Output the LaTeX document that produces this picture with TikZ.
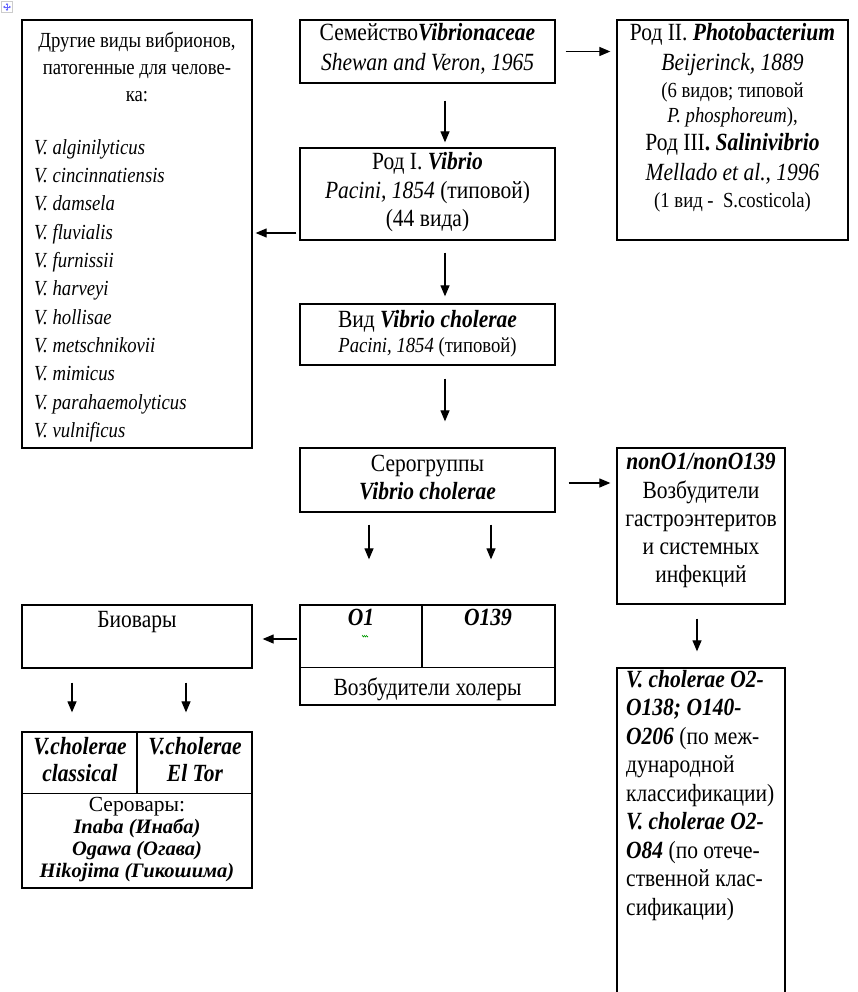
\documentclass[tikz,border=0pt]{standalone}
\usepackage{fontspec}
\setmainfont{Liberation Serif}
\usetikzlibrary{arrows.meta}
\usetikzlibrary{decorations.pathmorphing}
\newcommand\bigtxt{\fontsize{21.5}{26}\selectfont}
\newcommand\smalltxt{\fontsize{18.7}{23}\selectfont}
\newcommand\bfit[1]{\textbf{\textit{#1}}}
\newcommand\tallt[1]{\scalebox{1}[1.15]{#1}}

\begin{document}
\begin{tikzpicture}[x=1pt, y=-1pt,
    box/.style={draw, line width=1.3pt, inner sep=0pt},
    lbl/.style={inner sep=0pt, text height=10pt, text depth=0pt, font=\bigtxt},
    slbl/.style={lbl, text height=8.6pt, font=\smalltxt},
    arr/.style={-{Triangle[length=11pt, width=9pt]}, line width=1.2pt}]
    \useasboundingbox (0,0) rectangle (858,992);
    \clip (0,0) rectangle (858,992);

    % table handle
    \draw[gray!40] (1.5,1.5) rectangle (12.5,12.5);
    \foreach \dx/\dy in {1/0, -1/0, 0/1, 0/-1} {
        \draw[blue!60, line width=0.8pt, -{Triangle[length=2pt, width=2.5pt]}] (7,7) -- ++(4*\dx,4*\dy);
    }

    % boxes
    \node[box, minimum width=230, minimum height=428] (others) at (137,234) {};
    \node[box, minimum width=255, minimum height=63] (fam) at (427.5,51.5) {};
    \node[box, minimum width=231, minimum height=220] (photo) at (732.5,130) {};
    \node[box, minimum width=255, minimum height=92] (vib) at (427.5,194) {};
    \node[box, minimum width=255, minimum height=61] (vid) at (427.5,334.5) {};
    \node[box, minimum width=255, minimum height=64] (sero) at (427.5,480) {};
    \node[box, minimum width=168, minimum height=156] (nono) at (701,526) {};
    \node[box, minimum width=255, minimum height=100] (chol) at (427.5,655) {};
    \node[box, minimum width=230, minimum height=63] (biov) at (137,636.5) {};
    \node[box, minimum width=230, minimum height=156] (biot) at (137,810) {};
    \node[box, minimum width=168, minimum height=340] (nonint) at (701,838) {};

    \draw[line width=1.3pt] ([xshift=-5.5pt]chol.north) -- ++(0,63);
    \draw[line width=1.3pt] ([yshift=-63pt]chol.north west) -- ([yshift=-63pt]chol.north east);
    \draw[line width=1.3pt] (biot.north) -- ++(0,62);
    \draw[line width=1.3pt] ([yshift=-62pt]biot.north west) -- ([yshift=-62pt]biot.north east);

    % arrows
    \draw[arr, shorten <=10pt, shorten >=6pt] (fam.east) -- (fam.east -| photo.west);
    \draw[arr, shorten <=17pt, shorten >=5pt] ([xshift=17.5pt]fam.south) -- ([xshift=17.5pt]vib.north);
    \draw[arr, shorten <=3pt, shorten >=3pt] ([yshift=-39pt]vib.west) -- ([yshift=-39pt]vib.west -| others.east);
    \draw[arr, shorten <=12pt, shorten >=7pt] ([xshift=17.5pt]vib.south) -- ([xshift=17.5pt]vid.north);
    \draw[arr, shorten <=13pt, shorten >=26pt] ([xshift=17.5pt]vid.south) -- ([xshift=17.5pt]sero.north);
    \draw[arr, shorten <=13pt, shorten >=6pt] ([yshift=-3pt]sero.east) -- ([yshift=-3pt]sero.east -| nono.west);
    \foreach \dx in {-58.5, 63.5} {
        \draw[arr, shorten <=12pt, shorten >=45pt] ([xshift=\dx pt]sero.south) -- ([xshift=\dx pt]chol.north);
    }
    \draw[arr, shorten <=2pt, shorten >=10pt] ([yshift=16pt]chol.west) -- ([yshift=16pt]chol.west -| biov.east);
    \foreach \dx in {-65, 49} {
        \draw[arr, shorten <=14pt, shorten >=19pt] ([xshift=\dx pt]biov.south) -- ([xshift=\dx pt]biot.north);
    }
    \draw[arr, shorten <=14pt, shorten >=16pt] ([xshift=-4pt]nono.south) -- ([xshift=-4pt]nonint.north);

    % texts
    \foreach \y/\t in {43/{Другие виды вибрионов,}, 70/{патогенные для челове-}, 97/{ка:}} {
        \node[slbl] (oh\y) at (137,\y) {\tallt{\t}};
    }
    \foreach \t [count=\i from 0] in {alginilyticus, cincinnatiensis, damsela, fluvialis, furnissii, harveyi, hollisae, metschnikovii, mimicus, parahaemolyticus, vulnificus} {
        \node[slbl, anchor=west] (sp\i) at (34,150+28.3*\i) {\tallt{\textit{V. \t}}};
    }

    \node[lbl] (fam1) at (427.5,36) {\tallt{Семейство\bfit{Vibrionaceae}}};
    \node[lbl] (fam2) at (427.5,66) {\tallt{\textit{Shewan and Veron, 1965}}};

    \foreach \y/\t/\s in {36/{Род II. \bfit{Photobacterium}}/lbl, 66/{\textit{Beijerinck, 1889}}/lbl,
        93/{(6 видов; типовой}/slbl, 118/{\textit{P. phosphoreum}),}/slbl,
        146/{Род III\textbf{. \textit{Salinivibrio}}}/lbl, 176/{\textit{Mellado et al., 1996}}/lbl,
        203/{(1 вид -\ \ S.costicola)}/slbl} {
        \node[\s] (ph\y) at (732.5,\y) {\tallt{\t}};
    }

    \node[lbl] (vib1) at (427.5,165) {\tallt{Род I. \bfit{Vibrio}}};
    \node[lbl] (vib2) at (427.5,194) {\tallt{\textit{Pacini, 1854} (типовой)}};
    \node[lbl] (vib3) at (427.5,222) {\tallt{(44 вида)}};

    \node[lbl] (vid1) at (427.5,322) {\tallt{Вид \bfit{Vibrio cholerae}}};
    \node[slbl] (vid2) at (427.5,348) {\tallt{\textit{Pacini, 1854} (типовой)}};

    \node[lbl] (sero1) at (427.5,466) {\tallt{Серогруппы}};
    \node[lbl] (sero2) at (427.5,494) {\tallt{\bfit{Vibrio cholerae}}};

    \node[lbl] (nono1) at (701,464) {\tallt{\bfit{nonO1/nonO139}}};
    \foreach \y/\t in {493/Возбудители, 521/гастроэнтеритов, 549/{и системных}, 577/инфекций} {
        \node[lbl] (nono\y) at (701,\y) {\tallt{\t}};
    }

    \node[lbl] (o1) at (361,620) {\tallt{\bfit{O1}}};
    \draw[green!60!black, line width=0.5pt, decorate, decoration={zigzag, amplitude=0.8pt, segment length=2pt}] ([xshift=1pt, yshift=-11pt]o1.south) -- ++(6,0);
    \node[lbl] (o139) at (488,620) {\tallt{\bfit{O139}}};
    \node[lbl] (chol1) at (427.5,690) {\tallt{Возбудители холеры}};

    \node[lbl] (biov1) at (137,622) {\tallt{Биовары}};
    \node[lbl] (cl1) at (80,749) {\tallt{\bfit{V.cholerae}}};
    \node[lbl] (cl2) at (80,776) {\tallt{\bfit{classical}}};
    \node[lbl] (et1) at (195,749) {\tallt{\bfit{V.cholerae}}};
    \node[lbl] (et2) at (195,776) {\tallt{\bfit{El Tor}}};
    \node[lbl] (serv) at (137,806) {Серовары:};
    \foreach \y/\t in {828/{Inaba (Инаба)}, 850/{Ogawa (Огава)}, 872/{Hikojima (Гикошима)}} {
        \node[lbl, font=\fontsize{20.5}{24}\selectfont] (serv\y) at (137,\y) {\bfit{\t}};
    }

    \foreach \t [count=\i from 0] in {{\bfit{V. cholerae O2-}}, {\bfit{O138; O140-}}, {\bfit{O206} (по меж-},
        {дународной}, {классификации)}, {\bfit{V. cholerae O2-}}, {\bfit{O84} (по отече-}, {ственной клас-}, {сификации)}} {
        \node[lbl, anchor=west] (ni\i) at (626,682+28.5*\i) {\tallt{\t}};
    }
\end{tikzpicture}
\end{document}
